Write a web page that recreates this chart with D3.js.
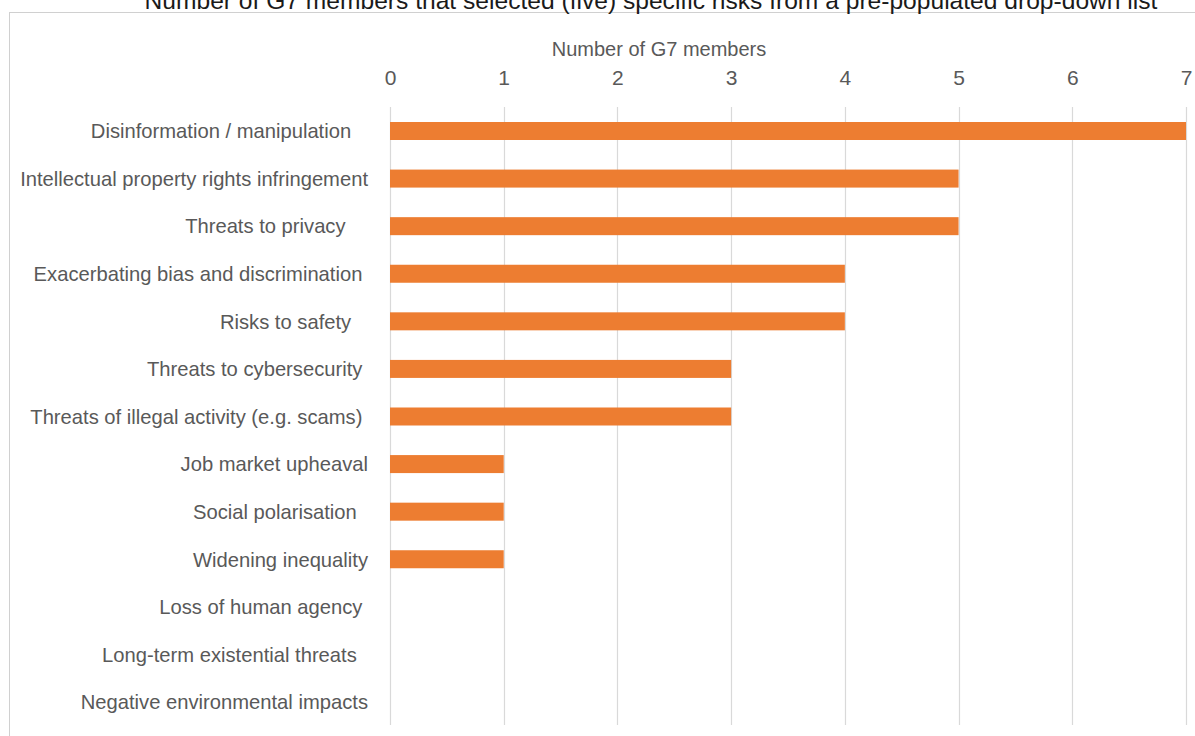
<!DOCTYPE html>
<html>
<head>
<meta charset="utf-8">
<script src="https://cdn.jsdelivr.net/npm/d3@7"></script>
<style>
  html, body { margin: 0; padding: 0; background: #fff; }
  svg { display: block; }
  .lbl { white-space: pre; }
</style>
</head>
<body>
<svg id="chart" width="1195" height="736"></svg>
<script>
const categories = [
  "Disinformation / manipulation   ",
  "Intellectual property rights infringement",
  "Threats to privacy    ",
  "Exacerbating bias and discrimination ",
  "Risks to safety   ",
  "Threats to cybersecurity ",
  "Threats of illegal activity (e.g. scams) ",
  "Job market upheaval",
  "Social polarisation  ",
  "Widening inequality",
  "Loss of human agency ",
  "Long-term existential threats  ",
  "Negative environmental impacts"
];
const values = [7, 5, 5, 4, 4, 3, 3, 1, 1, 1, 0, 0, 0];
const xTicks = [0, 1, 2, 3, 4, 5, 6, 7];
const titleText = "Number of G7 members that selected (five) specific risks from a pre-populated drop-down list";
const axisTitle = "Number of G7 members";

const svg = d3.select("#chart");
const textFont = "'Liberation Sans', Arial, sans-serif";
const grey = "#595959";

// frame
svg.append("rect").attr("x", 9.5).attr("y", 12.5).attr("width", 1200).attr("height", 740)
  .attr("fill", "none").attr("stroke", "#d0d0d0").attr("stroke-width", 1);

// title (partly above the top edge, as in the source picture)
svg.append("text").attr("x", 651).attr("y", 9).attr("text-anchor", "middle")
  .attr("font-family", "'Liberation Sans', Arial, sans-serif").attr("font-size", 24.6)
  .attr("fill", "#1a1a1a").text(titleText);

const x = d3.scaleLinear().domain([0, 7]).range([390, 1186]);
const y = d3.scalePoint().domain(categories).range([131, 702]);
const barH = 18;

// gridlines
svg.append("g").selectAll("line").data(xTicks).join("line")
  .attr("x1", d => Math.round(x(d)) + 0.5).attr("x2", d => Math.round(x(d)) + 0.5)
  .attr("y1", 107).attr("y2", 725)
  .attr("stroke", "#d9d9d9").attr("stroke-width", 1.2);

// top axis via d3
const axis = d3.axisTop(x).tickValues(xTicks).tickSize(0).tickPadding(0).tickFormat(d3.format("d"));
const ag = svg.append("g").attr("transform", "translate(0,85)").call(axis);
ag.select(".domain").remove();
ag.selectAll("text").attr("font-family", textFont).attr("font-size", 21).attr("fill", grey);

svg.append("text").attr("x", 659).attr("y", 56).attr("text-anchor", "middle")
  .attr("font-family", textFont).attr("font-size", 20).attr("fill", grey).text(axisTitle);

// bars
svg.append("g").selectAll("rect").data(values).join("rect")
  .attr("x", x(0))
  .attr("y", (d, i) => y(categories[i]) - barH / 2)
  .attr("width", d => x(d) - x(0))
  .attr("height", barH)
  .attr("fill", "#ED7D31");

// labels
svg.append("g").selectAll("text").data(categories).join("text")
  .attr("class", "lbl")
  .attr("x", 368).attr("y", d => y(d)).attr("dy", "0.36em")
  .attr("text-anchor", "end")
  .attr("font-family", textFont).attr("font-size", 20.2).attr("fill", grey)
  .text(d => d);
</script>
</body>
</html>
